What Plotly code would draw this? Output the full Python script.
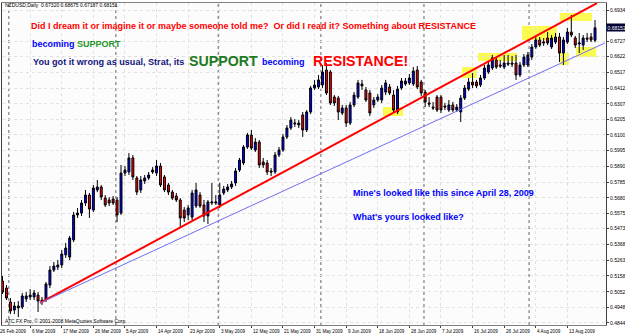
import plotly.graph_objects as go

W, H = 625, 334
ML, MR, MT, MB = 2, 19, 3, 9

# ---- data (NZDUSD daily, bar index 0..150) ----
opens = [.5124,.5077,.4984,.4930,.4957,.4950,.5004,.5017,.5017,.5030,
         .4984,.4997,.5097,.5197,.5217,.5231,.5298,.5284,.5398,.5565,
         .5578,.5645,.5698,.5598,.5732,.5752,.5678,.5665,.5672,.5665,
         .5578,.5845,.5852,.5946,.5812,.5732,.5792,.5812,.5852,.5845,
         .5892,.5819,.5765,.5718,.5692,.5665,.5598,.5565,.5551,.5625,
         .5698,.5632,.5558,.5645,.5645,.5632,.5712,.5732,.5752,.5779,
         .5865,.5912,.6019,.6099,.5999,.6052,.5919,.5912,.5859,.5852,
         .5966,.5999,.6086,.6146,.6173,.6166,.6233,.6133,.6253,.6413,
         .6420,.6433,.6533,.6520,.6353,.6346,.6246,.6280,.6179,.6300,
         .6353,.6440,.6400,.6380,.6300,.6333,.6333,.6386,.6420,.6366,
         .6253,.6413,.6440,.6447,.6440,.6533,.6453,.6386,.6313,.6286,
         .6353,.6353,.6293,.6266,.6300,.6266,.6253,.6346,.6406,.6453,
         .6453,.6433,.6480,.6520,.6547,.6600,.6567,.6553,.6580,.6580,
         .6580,.6500,.6567,.6567,.6620,.6687,.6734,.6714,.6747,.6687,
         .6720,.6754,.6647,.6720,.6787,.6747,.6707,.6700,.6747,.6754,
         .67320]
highs = [.5157,.5097,.5010,.4984,.4990,.5044,.5050,.5070,.5064,.5050,
         .5017,.5117,.5224,.5251,.5264,.5331,.5378,.5425,.5585,.5612,
         .5665,.5732,.5712,.5765,.5799,.5765,.5698,.5685,.5692,.5685,
         .5899,.5892,.5979,.5966,.5825,.5825,.5832,.5852,.5885,.5932,
         .5912,.5832,.5779,.5732,.5712,.5678,.5618,.5632,.5732,.5779,
         .5718,.5665,.5665,.5779,.5698,.5779,.5759,.5772,.5792,.5879,
         .5946,.6032,.6113,.6133,.6079,.6066,.5946,.5932,.5879,.5986,
         .6019,.6106,.6166,.6219,.6206,.6199,.6253,.6266,.6427,.6467,
         .6500,.6567,.6580,.6533,.6366,.6360,.6300,.6300,.6320,.6386,
         .6467,.6467,.6420,.6400,.6353,.6373,.6433,.6467,.6440,.6400,
         .6427,.6480,.6480,.6507,.6553,.6560,.6467,.6400,.6353,.6320,
         .6366,.6366,.6313,.6333,.6320,.6306,.6366,.6433,.6480,.6513,
         .6467,.6500,.6567,.6587,.6634,.6620,.6600,.6634,.6634,.6627,
         .6634,.6587,.6640,.6654,.6707,.6754,.6754,.6747,.6787,.6767,
         .6781,.6781,.6754,.6814,.6901,.6761,.6781,.6767,.6781,.6781,
         .68675]
lows = [.5037,.4997,.4903,.4903,.4883,.4937,.4984,.4997,.4997,.4917,
        .4964,.4984,.5077,.5184,.5197,.5211,.5278,.5264,.5384,.5545,
        .5558,.5625,.5545,.5585,.5718,.5665,.5618,.5625,.5632,.5518,
        .5565,.5825,.5832,.5799,.5698,.5712,.5772,.5799,.5839,.5825,
        .5752,.5718,.5698,.5665,.5652,.5485,.5518,.5531,.5531,.5612,
        .5612,.5518,.5505,.5632,.5632,.5612,.5698,.5718,.5738,.5759,
        .5852,.5899,.6006,.5999,.5986,.5879,.5879,.5832,.5825,.5839,
        .5952,.5986,.6072,.6133,.6153,.6146,.6086,.6119,.6239,.6400,
        .6406,.6413,.6366,.6300,.6293,.6199,.6233,.6153,.6166,.6286,
        .6340,.6400,.6320,.6226,.6280,.6320,.6313,.6366,.6366,.6246,
        .6239,.6400,.6427,.6433,.6427,.6406,.6360,.6286,.6286,.6266,
        .6253,.6246,.6266,.6253,.6253,.6253,.6186,.6333,.6393,.6413,
        .6413,.6420,.6467,.6507,.6533,.6540,.6547,.6540,.6560,.6553,
        .6467,.6487,.6553,.6553,.6600,.6674,.6687,.6694,.6700,.6674,
        .6707,.6587,.6567,.6707,.6754,.6680,.6647,.6667,.6720,.6720,
        .67187]
closes = [.5050,.5010,.4924,.4957,.4944,.5024,.5024,.5030,.5044,.4990,
          .4997,.5104,.5197,.5224,.5231,.5304,.5344,.5411,.5565,.5578,
          .5645,.5698,.5605,.5745,.5752,.5685,.5632,.5645,.5645,.5565,
          .5845,.5865,.5946,.5819,.5718,.5799,.5812,.5832,.5865,.5892,
          .5765,.5732,.5718,.5678,.5665,.5545,.5545,.5612,.5712,.5732,
          .5625,.5558,.5652,.5652,.5652,.5698,.5738,.5752,.5772,.5859,
          .5932,.6019,.6099,.6012,.6052,.5899,.5899,.5852,.5852,.5966,
          .5999,.6086,.6146,.6199,.6179,.6179,.6133,.6253,.6413,.6433,
          .6467,.6520,.6380,.6313,.6313,.6253,.6280,.6179,.6300,.6366,
          .6447,.6427,.6333,.6246,.6333,.6353,.6413,.6447,.6380,.6266,
          .6406,.6460,.6460,.6480,.6527,.6420,.6380,.6320,.6306,.6280,
          .6266,.6266,.6286,.6300,.6266,.6286,.6346,.6413,.6453,.6433,
          .6427,.6480,.6547,.6567,.6614,.6553,.6560,.6580,.6573,.6573,
          .6500,.6567,.6620,.6634,.6687,.6734,.6700,.6720,.6714,.6747,
          .6754,.6647,.6734,.6787,.6767,.6700,.6714,.6747,.6740,.6734,
          .68151]
bars = list(range(len(closes)))

date_labels = ["26 Feb 2009", "6 Mar 2009", "17 Mar 2009", "26 Mar 2009", "5 Apr 2009",
               "14 Apr 2009", "23 Apr 2009", "3 May 2009", "12 May 2009", "21 May 2009",
               "31 May 2009", "9 Jun 2009", "18 Jun 2009", "28 Jun 2009", "7 Jul 2009",
               "16 Jul 2009", "26 Jul 2009", "4 Aug 2009", "13 Aug 2009"]
date_label_bars = [-1 + 8 * k for k in range(len(date_labels))]

price_ticks = [0.48440, 0.49480, 0.50520, 0.51580, 0.52630, 0.53680, 0.54730, 0.55750,
               0.56800, 0.57850, 0.58900, 0.59950, 0.61000, 0.62050, 0.63070, 0.64120,
               0.65170, 0.66220, 0.67270, 0.69340]

month_separators = [1.6, 28.7, 54.6, 80.6, 106.7, 133.3]

# trendlines: (bar, price) pairs
red_line = [(9.49, 0.4977), (150.5, 0.6980)]
blue_line = [(9.49, 0.4977), (152.5, 0.6714)]

# highlight boxes: (bar0, bar1, price_low, price_high)
boxes = [(96.3, 101.4, 0.6226, 0.6286),
         (116.3, 120.1, 0.6480, 0.6553),
         (120.4, 130.3, 0.6594, 0.6647),
         (131.5, 140.3, 0.6734, 0.6827),
         (141.1, 149.2, 0.6861, 0.6914),
         (141.1, 143.4, 0.6567, 0.6647),
         (145.2, 150.3, 0.6620, 0.6687)]

X_RANGE = [-0.13, 152.78]
Y_RANGE = [0.4830, 0.6981]

def pxp(xp):
    return (xp - ML) / (W - ML - MR)

def pyp(yp):
    return (H - MB - yp) / (H - MT - MB)

def bar2paper(b):
    return (b - X_RANGE[0]) / (X_RANGE[1] - X_RANGE[0])

fig = go.Figure()
fig.add_trace(go.Candlestick(
    x=bars, open=opens, high=highs, low=lows, close=closes,
    increasing=dict(fillcolor="#0000FF", line=dict(color="#000000", width=1)),
    decreasing=dict(fillcolor="#FF0000", line=dict(color="#000000", width=1)),
    whiskerwidth=0, showlegend=False, hoverinfo="skip"))

shapes = []
for b0, b1, p0, p1 in boxes:
    shapes.append(dict(type="rect", xref="x", yref="y", x0=b0, x1=b1, y0=p0, y1=p1,
                       fillcolor="#FAFA50", line=dict(width=0), layer="below"))
for s in month_separators:
    shapes.append(dict(type="line", xref="x", yref="paper", x0=s, x1=s, y0=0, y1=1,
                       line=dict(color="#666666", width=1, dash="dot"), layer="below"))
for (a, b), col, wd in [(red_line, "#FF0000", 2), (blue_line, "#6F6FF5", 1)]:
    shapes.append(dict(type="line", xref="x", yref="y", x0=a[0], y0=a[1], x1=b[0], y1=b[1],
                       line=dict(color=col, width=wd), layer="above"))

ann = []
BIG = "Liberation Sans, Arial, sans-serif"
def txt(x, y, s, color, size, bold=True):
    ann.append(dict(xref="paper", yref="paper", x=pxp(x), y=pyp(y), xanchor="left",
                    yanchor="middle", showarrow=False,
                    text=f"<b>{s}</b>" if bold else s,
                    font=dict(family=BIG, size=size, color=color)))

txt(29, 26, "Did I dream it or imagine it or maybe someone told me?  Or did I read it? Something about RESISTANCE", "#FF0000", 9.0)
txt(30, 44, "becoming", "#0000FF", 9.0)
txt(75, 44, "SUPPORT", "#22962A", 9.0)
txt(31, 62, "You got it wrong as usual, Strat, its", "#14147F", 9.1)
txt(187, 60.5, "SUPPORT", "#1E7A1E", 14.2)
txt(260, 62, "becoming", "#0000FF", 9.0)
txt(311, 61.5, "RESISTANCE!", "#FF0000", 14.2)
txt(351, 193, "Mine's looked like this since April 28, 2009", "#0000FF", 9.0)
txt(351, 217, "What's yours looked like?", "#0000FF", 9.0)
txt(3, 5.5, "NZDUSD,Daily  0.67320 0.68675 0.67187 0.68151", "#000000", 5, bold=False)
txt(3, 321, "ATC FX Pro, © 2001-2008 MetaQuotes Software Corp.", "#000000", 5, bold=False)

for b, lab in zip(date_label_bars, date_labels):
    ann.append(dict(xref="paper", yref="paper", x=bar2paper(b), y=0, yshift=-2, xshift=-0.5,
                    xanchor="left", yanchor="top", showarrow=False, text=lab,
                    font=dict(family=BIG, size=4.6, color="#000000")))

ann.append(dict(xref="paper", yref="y", x=1, y=closes[-1], xanchor="left", yanchor="middle",
                showarrow=False, text=f"{closes[-1]:.5f}", bgcolor="#000033",
                borderpad=0.5, font=dict(family=BIG, size=5, color="#FFFFFF")))

fig.update_layout(
    width=W, height=H, margin=dict(l=ML, r=MR, t=MT, b=MB, autoexpand=False),
    paper_bgcolor="#FFFFFF", plot_bgcolor="#FCFCFC",
    shapes=shapes, annotations=ann, showlegend=False,
    xaxis=dict(range=X_RANGE, rangeslider=dict(visible=False), tickmode="array",
               tickvals=date_label_bars, ticktext=[""] * len(date_label_bars),
               ticks="outside", ticklen=2, tickcolor="#404040",
               showgrid=True, gridcolor="#E2E2E2", griddash="dot", gridwidth=1,
               showline=True, linecolor="#808080", mirror=True, zeroline=False,
               fixedrange=True),
    yaxis=dict(range=Y_RANGE, side="right", tickmode="array", tickvals=price_ticks,
               ticktext=[f"{v:.5f}" for v in price_ticks], ticks="outside", ticklen=2,
               tickcolor="#404040", tickfont=dict(family=BIG, size=5, color="#000000"),
               showgrid=True, gridcolor="#E2E2E2", griddash="dot", gridwidth=1,
               showline=True, linecolor="#404040", mirror=True, zeroline=False,
               fixedrange=True),
)

fig.write_html("out.html")
